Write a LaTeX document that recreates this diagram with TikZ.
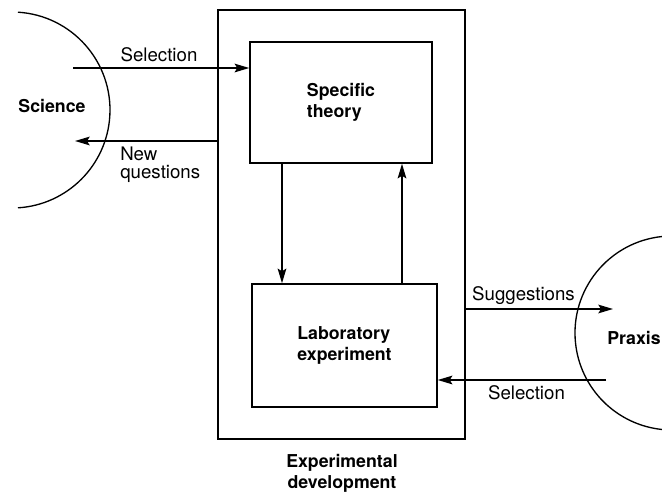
\documentclass[tikz,border=0pt]{standalone}
\usepackage{fontspec}
\setmainfont{TeX Gyre Heros}
\usetikzlibrary{arrows.meta,positioning}
\tikzset{
  box/.style={draw,line width=1.1pt,inner sep=0pt},
  lbl/.style={inner sep=0pt,font=\fontsize{14}{13.5}\selectfont},
  blbl/.style={inner sep=0pt,font=\fontsize{13.3}{15.5}\selectfont\bfseries},
  flow/.style={line width=1.1pt,-{Stealth[length=11pt,width=6.5pt,inset=2pt]}},
}
\begin{document}
\begin{tikzpicture}[x=0.75pt,y=-0.75pt]
  \useasboundingbox (0,0) rectangle (662,497);
  % the two outer fields
  \draw[line width=1pt] (12,110) ++(-86.5:98)
    arc[start angle=-86.5,end angle=86.5,radius=98];
  \draw[line width=1pt] (672,333) ++(264:97)
    arc[start angle=264,end angle=96,radius=97];
  \node[blbl] (science) at (52,106) {Science};
  \node[blbl,anchor=east] (praxis) at (661,338) {Praxis};

  % boxes
  \node[box,minimum width=185.25pt,minimum height=321.75pt] (dev) at (341.5,224.5) {};
  \node[box,blbl,align=left,minimum width=136.5pt,minimum height=90.75pt]
    (theory) at (341,102.5) {Specific\\theory};
  \node[box,blbl,align=left,minimum width=138.75pt,minimum height=92.25pt]
    (lab) at (344.5,345.5) {Laboratory\\experiment};
  \node[blbl,align=center] (devtxt) at (342,473) {Experimental\\development};

  % free ends
  \coordinate (sciout) at (73,68);
  \coordinate (sciin) at (75,141);
  \coordinate (prin) at (613,309);
  \coordinate (prout) at (606,380);
  \coordinate (dnx) at (282,0);
  \coordinate (upx) at (402,0);

  % flows
  \draw[flow] (sciout) -- (sciout -| theory.west);
  \draw[flow] (sciin -| dev.west) -- (sciin);
  \draw[flow] (theory.south -| dnx) -- (lab.north -| dnx);
  \draw[flow] (lab.north -| upx) -- (theory.south -| upx);
  \draw[flow] (prin -| dev.east) -- (prin);
  \draw[flow] (prout) -- (prout -| lab.east);

  % flow labels
  \node[lbl,anchor=base] (selsci) at (159,61.7) {Selection};
  \node[lbl,align=left,anchor=north west] (newq) at (120,147) {New\\questions};
  \node[lbl,anchor=base] (sugg) at (523.5,300) {Suggestions};
  \node[lbl,anchor=base] (selpr) at (526.5,399) {Selection};
\end{tikzpicture}
\end{document}
